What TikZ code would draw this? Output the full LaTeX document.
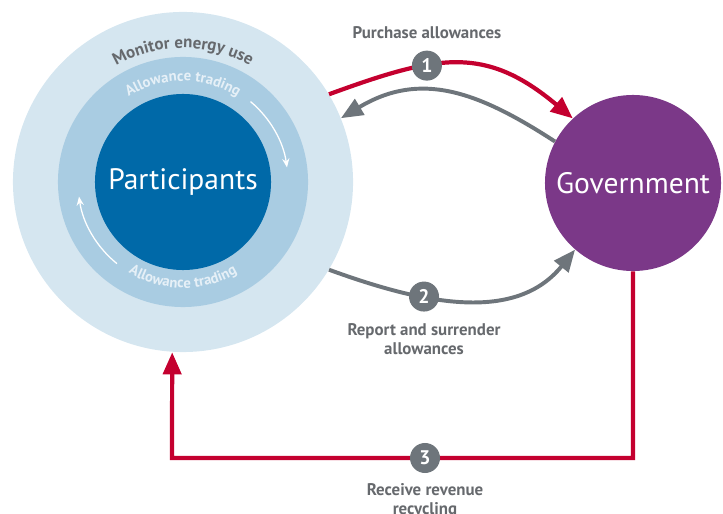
\documentclass[tikz,border=0pt]{standalone}
\usepackage{fontspec}
\setmainfont{PT Sans}
\usetikzlibrary{arrows.meta,decorations.text,positioning}
\definecolor{ringout}{HTML}{D5E6F0}
\definecolor{ringmid}{HTML}{A9CCE2}
\definecolor{partblue}{HTML}{0069A8}
\definecolor{govpurple}{HTML}{7B3888}
\definecolor{flowred}{HTML}{C4002F}
\definecolor{flowgray}{HTML}{6E757B}
\definecolor{labelgray}{HTML}{66696D}
\definecolor{ringword}{HTML}{E6F0F7}
\begin{document}
\begin{tikzpicture}
	[	x=0.025cm,y=0.025cm,
	disc/.style={circle,draw=none,inner sep=0pt},
	badge/.style={circle,fill=flowgray,text=white,font=\bfseries\fontsize{14}{14}\selectfont,minimum size=0.75cm,inner sep=0pt},
	caption/.style={text=labelgray,font=\bfseries\fontsize{12}{13.5}\selectfont,align=center,inner sep=1pt},
	redflow/.style={draw=flowred,line width=3pt,-{Triangle[length=0.55cm,width=0.45cm]}},
	grayflow/.style={draw=flowgray,line width=2.8pt,-{Triangle[length=0.55cm,width=0.45cm]}},
	turnflow/.style={draw=white,line width=0.9pt,-{Stealth[length=2.2mm,width=1.8mm]}}
	]
	\useasboundingbox (0,0) rectangle (723,513);
	\node[disc,fill=ringout,minimum size=8.5cm] (monitor) at (183,331){};
	\node[disc,fill=ringmid,minimum size=6.25cm] (trading) at (183,331){};
	\node[disc,fill=partblue,minimum size=4.4cm,text=white,font=\fontsize{21}{21}\selectfont] (part) at (183,331){Participants};
	\node[disc,fill=govpurple,minimum size=4.4cm,text=white,font=\fontsize{21}{21}\selectfont] (gov) at (633,330){Government};

	% words round the rings
	\path[decorate,decoration={text along path,text align=center,text color=labelgray,
		text={|\fontsize{12}{12}\selectfont\bfseries|Monitor energy use}}]
		(monitor.center) ++(150:134) arc (150:30:134);
	\path[decorate,decoration={text along path,text align=center,text color=ringword,
		text={|\fontsize{10.5}{11}\selectfont\bfseries|Allowance trading}}]
		(trading.center) ++(152:101) arc (152:28:101);
	\path[decorate,decoration={text along path,text align=center,text color=ringword,
		text={|\fontsize{10.5}{11}\selectfont\bfseries|Allowance trading}}]
		(trading.center) ++(205:106) arc (205:335:106);
	\draw[turnflow] (trading.center) ++(50:105) arc (50:8:105);
	\draw[turnflow] (trading.center) ++(231:105) arc (231:188:105);

	% flows
	\draw[redflow] (monitor.31) to[out=20,in=140,looseness=1.2] node[badge,pos=.36] (b1){1} (gov.133);
	\draw[grayflow] (gov.152) to[out=147,in=31,looseness=1.1] (monitor.22);
	\draw[grayflow] (monitor.-31) to[out=-20,in=231] node[badge,pos=.35] (b2){2} (gov.229);
	\coordinate (turn) at (172,55);
	\draw[redflow] (gov.south) |- (turn) -- ([xshift=-0.27cm]monitor.south);
	\node[badge] (b3) at (425,55){3};

	\node[caption,above=6pt of b1] (lab1){Purchase allowances};
	\node[caption,below=6pt of b2] (lab2){Report and surrender\\allowances};
	\node[caption,below=6pt of b3] (lab3){Receive revenue\\recycling};
\end{tikzpicture}
\end{document}
